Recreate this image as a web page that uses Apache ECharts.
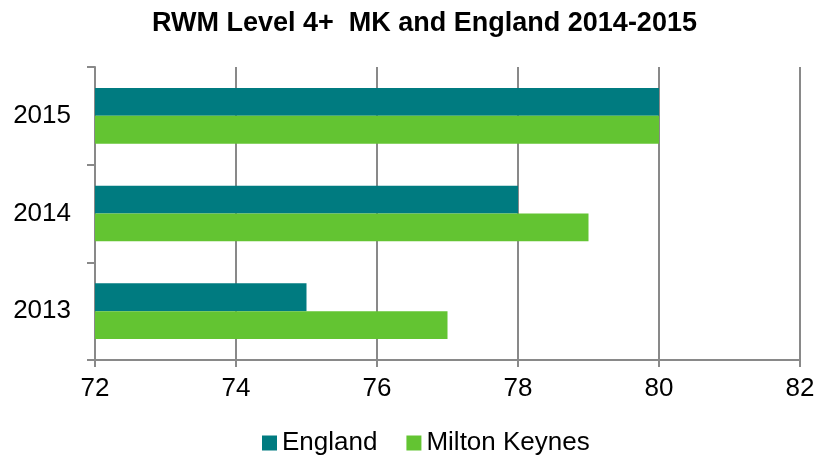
<!DOCTYPE html>
<html>
<head>
<meta charset="utf-8">
<script src="https://cdn.jsdelivr.net/npm/echarts@6/dist/echarts.min.js"></script>
<style>
  html, body { margin: 0; padding: 0; background: #fff; }
  #chart { width: 818px; height: 461px; }
</style>
</head>
<body>
<div id="chart"></div>
<script>
// data
var years = ['2013', '2014', '2015'];
var england = [75, 78, 80];
var miltonKeynes = [77, 79, 80];

var myChart = echarts.init(document.getElementById('chart'));

var font = 'Liberation Sans, Arial, sans-serif';

var option = {
  animation: false,
  title: {
    text: 'RWM Level 4+  MK and England 2014-2015',
    left: 147,
    top: 5,
    textStyle: { fontFamily: font, fontSize: 27, fontWeight: 'bold', color: '#000' }
  },
  legend: {
    data: ['England', 'Milton Keynes'],
    bottom: 0,
    left: 257,
    itemWidth: 15,
    itemHeight: 15,
    itemGap: 29,
    icon: 'rect',
    textStyle: { fontFamily: font, fontSize: 26, color: '#000' }
  },
  grid: { left: 95, right: 18, top: 67, bottom: 101, containLabel: false },
  xAxis: {
    type: 'value',
    min: 72,
    max: 82,
    interval: 2,
    axisLine: { show: true, lineStyle: { color: '#898989', width: 2 } },
    axisTick: { show: true, length: 7, lineStyle: { color: '#898989', width: 2 } },
    splitLine: { show: true, lineStyle: { color: '#898989', width: 2 } },
    axisLabel: { fontFamily: font, fontSize: 26, color: '#000', margin: 16 }
  },
  yAxis: {
    type: 'category',
    data: years,
    axisLine: { show: true, lineStyle: { color: '#898989', width: 2 } },
    axisTick: { show: true, length: 8, lineStyle: { color: '#898989', width: 2 } },
    axisLabel: { fontFamily: font, fontSize: 26, color: '#000', margin: 24 }
  },
  series: [
    {
      name: 'England',
      type: 'bar',
      data: england,
      barGap: '0%',
      barCategoryGap: '43%',
      itemStyle: { color: '#007b80' }
    },
    {
      name: 'Milton Keynes',
      type: 'bar',
      data: miltonKeynes,
      barGap: '0%',
      barCategoryGap: '43%',
      itemStyle: { color: '#63c432' }
    }
  ]
};

myChart.setOption(option);
</script>
</body>
</html>
